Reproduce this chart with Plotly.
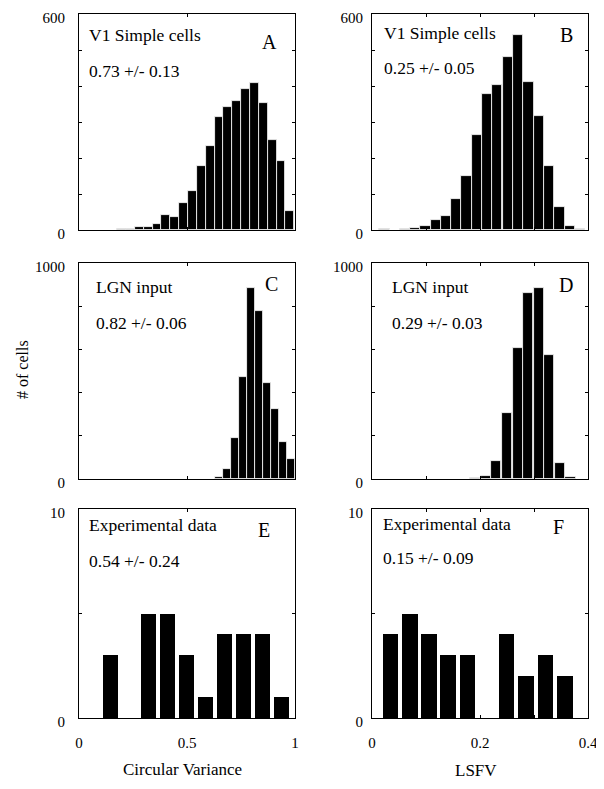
import plotly.graph_objects as go

# browser body has an 8px margin: figure is drawn 8px in from the window corner
OFF = 8
W, H = 604 - OFF, 789 - OFF

# ---- data ----
a_centers = [0.197, 0.238, 0.279, 0.320, 0.361, 0.402, 0.443, 0.484, 0.525, 0.566,
             0.607, 0.648, 0.689, 0.730, 0.771, 0.812, 0.853, 0.894, 0.935, 0.976]
a_counts = [2, 3, 7, 7, 18, 43, 37, 74, 107, 177, 234, 313, 343, 358, 393, 407, 352, 250, 192, 52]

b_centers = [0.023, 0.042, 0.061, 0.080, 0.099, 0.118, 0.137, 0.156, 0.175, 0.194,
             0.213, 0.232, 0.252, 0.271, 0.290, 0.309, 0.328, 0.347, 0.366, 0.385]
b_counts = [4, 0, 3, 6, 10, 28, 38, 87, 150, 263, 378, 402, 480, 541, 412, 318, 179, 63, 10, 3]

c_centers = [0.649, 0.686, 0.723, 0.760, 0.797, 0.834, 0.871, 0.908, 0.945, 0.982]
c_counts = [11, 48, 191, 472, 883, 777, 445, 326, 171, 91]

d_centers = [0.191, 0.211, 0.230, 0.250, 0.270, 0.289, 0.309, 0.328, 0.348, 0.368]
d_counts = [4, 12, 85, 304, 605, 860, 883, 573, 73, 11]

e_centers = [0.144, 0.232, 0.320, 0.408, 0.496, 0.584, 0.672, 0.760, 0.848, 0.936]
e_counts = [3, 0, 5, 5, 3, 1, 4, 4, 4, 1]

f_centers = [0.034, 0.070, 0.105, 0.141, 0.177, 0.213, 0.249, 0.285, 0.321, 0.357]
f_counts = [4, 5, 4, 3, 3, 0, 4, 2, 3, 2]

panel_titles = ["V1 Simple cells", "V1 Simple cells", "LGN input", "LGN input",
                "Experimental data", "Experimental data"]
panel_stats = ["0.73 +/- 0.13", "0.25 +/- 0.05", "0.82 +/- 0.06", "0.29 +/- 0.03",
               "0.54 +/- 0.24", "0.15 +/- 0.09"]
panel_letters = ["A", "B", "C", "D", "E", "F"]

y_max = [600, 600, 1000, 1000, 10, 10]
y_step = [100, 100, 200, 200, 5, 5]
x_ticks_left = [0, 0.5, 1]
x_ticks_right = [0, 0.1, 0.2, 0.3, 0.4]
x_ticktext_left = ["0", "0.5", "1"]
x_ticktext_right = ["0", "", "0.2", "", "0.4"]
x_title_left = "Circular Variance"
x_title_right = "LSFV"
y_title = "# of cells"

# ---- layout geometry (window pixels) ----
FONT = "Liberation Serif"
col_x = [(79, 295), (372, 588)]
row_y = [(14, 230), (263, 479), (509, 718)]

def px_x(x):
    return (x - OFF) / W

def px_y(y):
    return 1 - (y - OFF) / H

series = [(a_centers, a_counts, 0.041), (b_centers, b_counts, 0.01904),
          (c_centers, c_counts, 0.037), (d_centers, d_counts, 0.0196),
          (e_centers, e_counts, 0.069), (f_centers, f_counts, 0.029)]

fig = go.Figure()
layout = dict(width=W, height=H, autosize=False,
              margin=dict(l=0, r=0, t=0, b=0, pad=0),
              paper_bgcolor="white", plot_bgcolor="white",
              showlegend=False, bargap=0,
              font=dict(family=FONT, size=15, color="black"))

for i, (xs, ys, w) in enumerate(series):
    r, c = divmod(i, 2)
    n = i + 1
    xa = "x" if n == 1 else f"x{n}"
    ya = "y" if n == 1 else f"y{n}"
    hist = r < 2
    fig.add_trace(go.Bar(x=xs, y=ys, width=w, xaxis=xa, yaxis=ya,
                         marker=dict(color="black",
                                     line=dict(color="white" if hist else "black",
                                               width=0.8 if hist else 0))))
    x0, x1 = col_x[c]
    y0, y1 = row_y[r]
    ymax = y_max[i]
    yt = list(range(0, ymax + 1, y_step[i]))
    ytt = [str(v) if v in (0, ymax) else "" for v in yt]
    xt = x_ticks_left if c == 0 else x_ticks_right
    xtt = x_ticktext_left if c == 0 else x_ticktext_right
    layout["xaxis" if n == 1 else f"xaxis{n}"] = dict(
        domain=[px_x(x0), px_x(x1)], anchor=ya, automargin=False,
        range=[0, 1] if c == 0 else [0, 0.4],
        tickmode="array", tickvals=xt, ticktext=xtt,
        showticklabels=(r == 2), ticks="inside", ticklen=3, tickwidth=1,
        tickcolor="black", showline=True, linecolor="black", linewidth=1,
        mirror="ticks", showgrid=False, zeroline=False, ticklabeloverflow="allow",
        ticklabelstandoff=11, tickfont=dict(size=15, family=FONT))
    layout["yaxis" if n == 1 else f"yaxis{n}"] = dict(
        domain=[px_y(y1), px_y(y0)], anchor=xa, automargin=False,
        range=[0, ymax], tickmode="array", tickvals=yt, ticktext=ytt,
        ticks="inside", ticklen=3, tickwidth=1, tickcolor="black",
        showline=True, linecolor="black", linewidth=1, mirror="ticks",
        showgrid=False, zeroline=False, ticklabeloverflow="allow",
        ticklabelshift=4,
        ticklabelstandoff=10 if c == 0 else 5, tickfont=dict(size=15, family=FONT))

fig.update_layout(**layout)

# panel texts (window pixel positions)
title_pos = [(86.7, 35), (381.7, 33), (94.3, 287), (390, 287), (86.7, 525), (380.7, 524)]
stat_pos = [(86.7, 71), (381.7, 68), (94.3, 323), (390, 323), (86.7, 561), (380.7, 558)]
letter_pos = [(269, 42), (566.7, 35), (271.7, 284), (566, 285), (264, 530), (558.3, 527)]

ann = []
for i in range(6):
    tx, ty = title_pos[i]
    ann.append(dict(x=px_x(tx), y=px_y(ty), xref="paper", yref="paper",
                    text=panel_titles[i], showarrow=False, xanchor="left",
                    yanchor="middle", font=dict(size=17.5, family=FONT)))
    sx, sy = stat_pos[i]
    ann.append(dict(x=px_x(sx), y=px_y(sy), xref="paper", yref="paper",
                    text=panel_stats[i], showarrow=False, xanchor="left",
                    yanchor="middle", font=dict(size=17.5, family=FONT)))
    lx, ly = letter_pos[i]
    ann.append(dict(x=px_x(lx), y=px_y(ly), xref="paper", yref="paper",
                    text=panel_letters[i], showarrow=False, xanchor="center",
                    yanchor="middle", font=dict(size=20, family=FONT)))

ann.append(dict(x=px_x(182), y=px_y(769), xref="paper", yref="paper",
                text=x_title_left, showarrow=False, xanchor="center", yanchor="middle",
                font=dict(size=17, family=FONT)))
ann.append(dict(x=px_x(476), y=px_y(770), xref="paper", yref="paper",
                text=x_title_right, showarrow=False, xanchor="center", yanchor="middle",
                font=dict(size=17, family=FONT)))
ann.append(dict(x=px_x(22), y=px_y(370), xref="paper", yref="paper",
                text=y_title, showarrow=False, textangle=-90, xanchor="center",
                yanchor="middle", font=dict(size=16, family=FONT)))
fig.update_layout(annotations=ann)

fig.write_html("out.html")
